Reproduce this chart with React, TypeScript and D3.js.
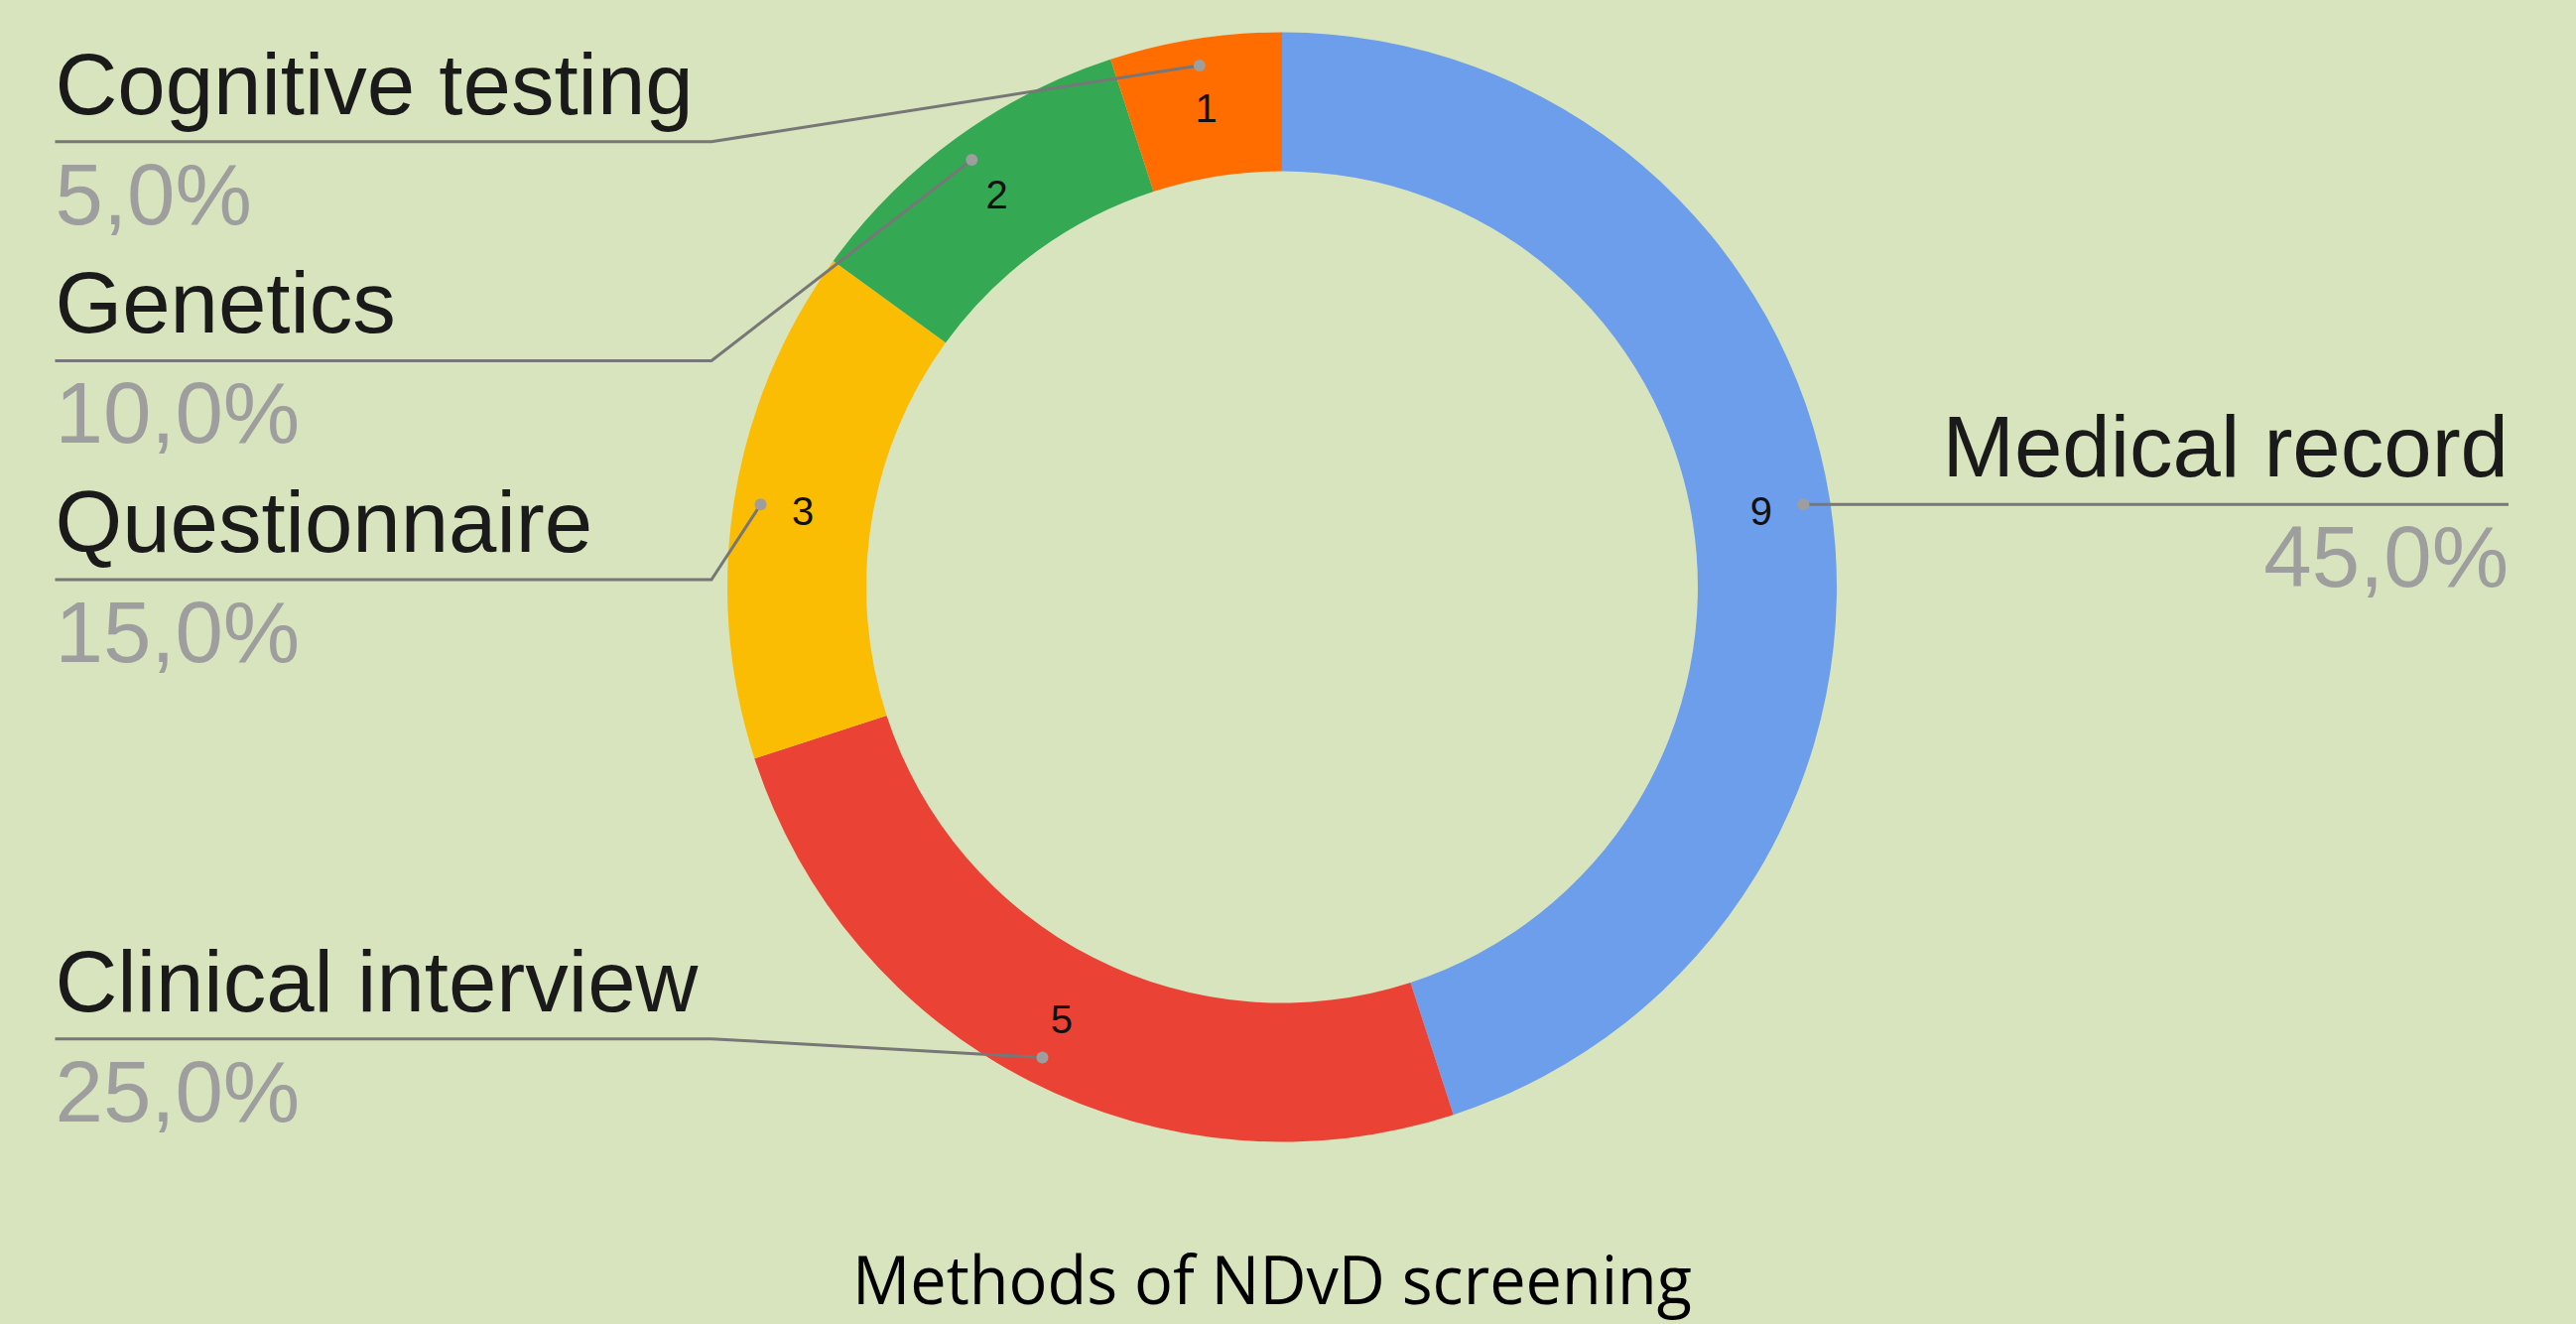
import React, { useEffect } from "react";
import * as d3 from "d3";

// ---- data ----
const categories = ["Medical record", "Clinical interview", "Questionnaire", "Genetics", "Cognitive testing"];
const counts = [9, 5, 3, 2, 1];
const colors = ["#6d9eeb", "#ea4335", "#fbbc04", "#34a853", "#ff6d01"];
const title = "Methods of NDvD screening";

// ---- layout ----
const W = 2596;
const H = 1334;
const CX = 1292;
const CY = 591.5;
const R_OUT = 559;
const R_IN = 419;
const R_DOT = 532;
const BG = "#d8e4bd";
const FONT = "'Liberation Sans', Arial, Helvetica, sans-serif";
const LABEL_SIZE = 87;
const LEFT_X = 55.5;
const LEFT_ELBOW_X = 717;
const RIGHT_X = 2528;
const LABEL_GAP = 220.7;
const LABEL_TOP = 142.7;
const LABEL_BOTTOM = 1046.7;

export default function App() {
  useEffect(() => {
    document.body.style.margin = "0";
    document.body.style.background = BG;
  }, []);

  const data = categories.map((c, i) => ({ name: c, value: counts[i], color: colors[i] }));
  const total = d3.sum(counts);
  const pie = d3.pie<any>().value((d: any) => d.value).sort(null).startAngle(0).endAngle(2 * Math.PI);
  const arcs = pie(data);
  const arc = d3.arc<any>().innerRadius(R_IN).outerRadius(R_OUT);
  const mid = (a: any) => (a.startAngle + a.endAngle) / 2;
  const polar = (ang: number, r: number) => [CX + r * Math.sin(ang), CY - r * Math.cos(ang)];

  const items = arcs.map((a: any) => {
    const m = mid(a);
    const [dx, dy] = polar(m, R_DOT);
    const [nx, ny] = polar(m, (R_IN + R_OUT) / 2);
    return {
      a,
      m,
      dx,
      dy,
      nx,
      ny,
      left: m > Math.PI,
      pct: d3.format(".1f")((a.data.value / total) * 100).replace(".", ",") + "%",
    };
  });

  // label layout for left side
  const left = items.filter((d) => d.left).sort((p, q) => p.dy - q.dy);
  const ly: number[] = [];
  left.forEach((d, i) => {
    let y = Math.max(d.dy, LABEL_TOP);
    if (i > 0) y = Math.max(y, ly[i - 1] + LABEL_GAP);
    ly.push(y);
  });
  for (let i = left.length - 1; i >= 0; i--) {
    let y = Math.min(ly[i], LABEL_BOTTOM);
    if (i < left.length - 1) y = Math.min(y, ly[i + 1] - LABEL_GAP);
    ly[i] = y;
  }
  const labelY = new Map<any, number>();
  left.forEach((d, i) => labelY.set(d, ly[i]));
  items.filter((d) => !d.left).forEach((d) => labelY.set(d, d.dy));

  return (
    <div style={{ position: "absolute", left: 0, top: 0, width: W, height: H, background: BG }}>
      <svg width={W} height={H} viewBox={`0 0 ${W} ${H}`} style={{ display: "block" }}>
        <rect x={0} y={0} width={W} height={H} fill={BG} />
        <g transform={`translate(${CX},${CY})`}>
          {arcs.map((a: any, i: number) => (
            <path key={i} d={arc(a) as string} fill={a.data.color} />
          ))}
        </g>
        {items.map((d, i) => {
          const y = labelY.get(d) as number;
          const path = d.left
            ? `M${LEFT_X},${y}L${LEFT_ELBOW_X},${y}L${d.dx},${d.dy}`
            : `M${d.dx},${d.dy}L${RIGHT_X},${y}`;
          return (
            <g key={"l" + i}>
              <path d={path} fill="none" stroke="#777777" strokeWidth={3} />
              <circle cx={d.dx} cy={d.dy} r={6} fill="#9e9e9e" />
              <text
                x={d.nx}
                y={d.ny}
                textAnchor="middle"
                dominantBaseline="central"
                fontFamily={FONT}
                fontSize={40}
                fill="#111111"
              >
                {d.a.data.value}
              </text>
              <text
                x={d.left ? LEFT_X : RIGHT_X}
                y={y - 28}
                textAnchor={d.left ? "start" : "end"}
                fontFamily={FONT}
                fontSize={LABEL_SIZE}
                fill="#1a1a1a"
              >
                {d.a.data.name}
              </text>
              <text
                x={d.left ? LEFT_X : RIGHT_X}
                y={y + 83}
                textAnchor={d.left ? "start" : "end"}
                fontFamily={FONT}
                fontSize={LABEL_SIZE}
                fill="#9e9e9e"
              >
                {d.pct}
              </text>
            </g>
          );
        })}
        <text
          x={1282}
          y={1314}
          textAnchor="middle"
          fontFamily="'Open Sans', 'Noto Sans', sans-serif"
          fontSize={68}
          textLength={846}
          lengthAdjust="spacingAndGlyphs"
          fill="#000000"
        >
          {title}
        </text>
      </svg>
    </div>
  );
}
